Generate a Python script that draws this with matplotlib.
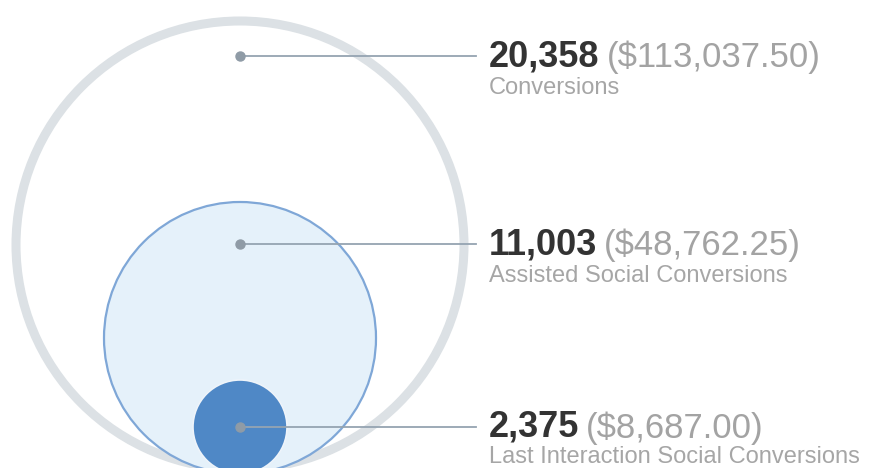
import matplotlib.pyplot as plt
from matplotlib.patches import Circle

# data
counts = ["20,358", "11,003", "2,375"]
revenues = ["($113,037.50)", "($48,762.25)", "($8,687.00)"]
labels = ["Conversions", "Assisted Social Conversions", "Last Interaction Social Conversions"]

# layout (pixels)
cx = 240
centers_y = [245, 338, 427]
radii = [224, 136, 47]
dots_y = [56, 244, 427]
line_end = 476
text_x = 489

plt.rcParams['font.family'] = ['Liberation Sans', 'DejaVu Sans']

fig = plt.figure(figsize=(8.7, 4.68), dpi=100)
ax = fig.add_axes([0, 0, 1, 1])
ax.set_xlim(0, 870)
ax.set_ylim(468, 0)
ax.set_aspect('equal')
ax.axis('off')

# outer ring
ax.add_patch(Circle((cx, centers_y[0]), radii[0], facecolor='white',
                    edgecolor='#dce1e5', linewidth=6.5, zorder=1))
# assisted
ax.add_patch(Circle((cx, centers_y[1]), radii[1], facecolor='#e5f1fa',
                    edgecolor='#7fa7d7', linewidth=1.6, zorder=2))
# last interaction
ax.add_patch(Circle((cx, centers_y[2]), radii[2], facecolor='#4f88c6',
                    edgecolor='#eef4fa', linewidth=1.2, zorder=3))

for i in range(3):
    y = dots_y[i]
    ax.plot([cx, line_end], [y, y], color='#95a4b1', linewidth=1.3, zorder=4)
    ax.plot(cx, y, 'o', color='#8f9ba6', markersize=6.5, zorder=5)
    t = ax.text(text_x, y + 10, counts[i], fontsize=26, fontweight='bold',
                color='#333333', va='baseline', ha='left', zorder=6)
    ax.annotate(revenues[i], xy=(1, 0), xycoords=t, xytext=(5, 0),
                textcoords='offset points', fontsize=25, color='#a3a3a3',
                va='bottom', ha='left')
    # keep the last label inside the bottom edge
    sub_y = min(y + 38, 463)
    ax.text(text_x, sub_y, labels[i], fontsize=17, color='#a6a6a6',
            va='baseline', ha='left')

fig.savefig('out.png', dpi=100)
